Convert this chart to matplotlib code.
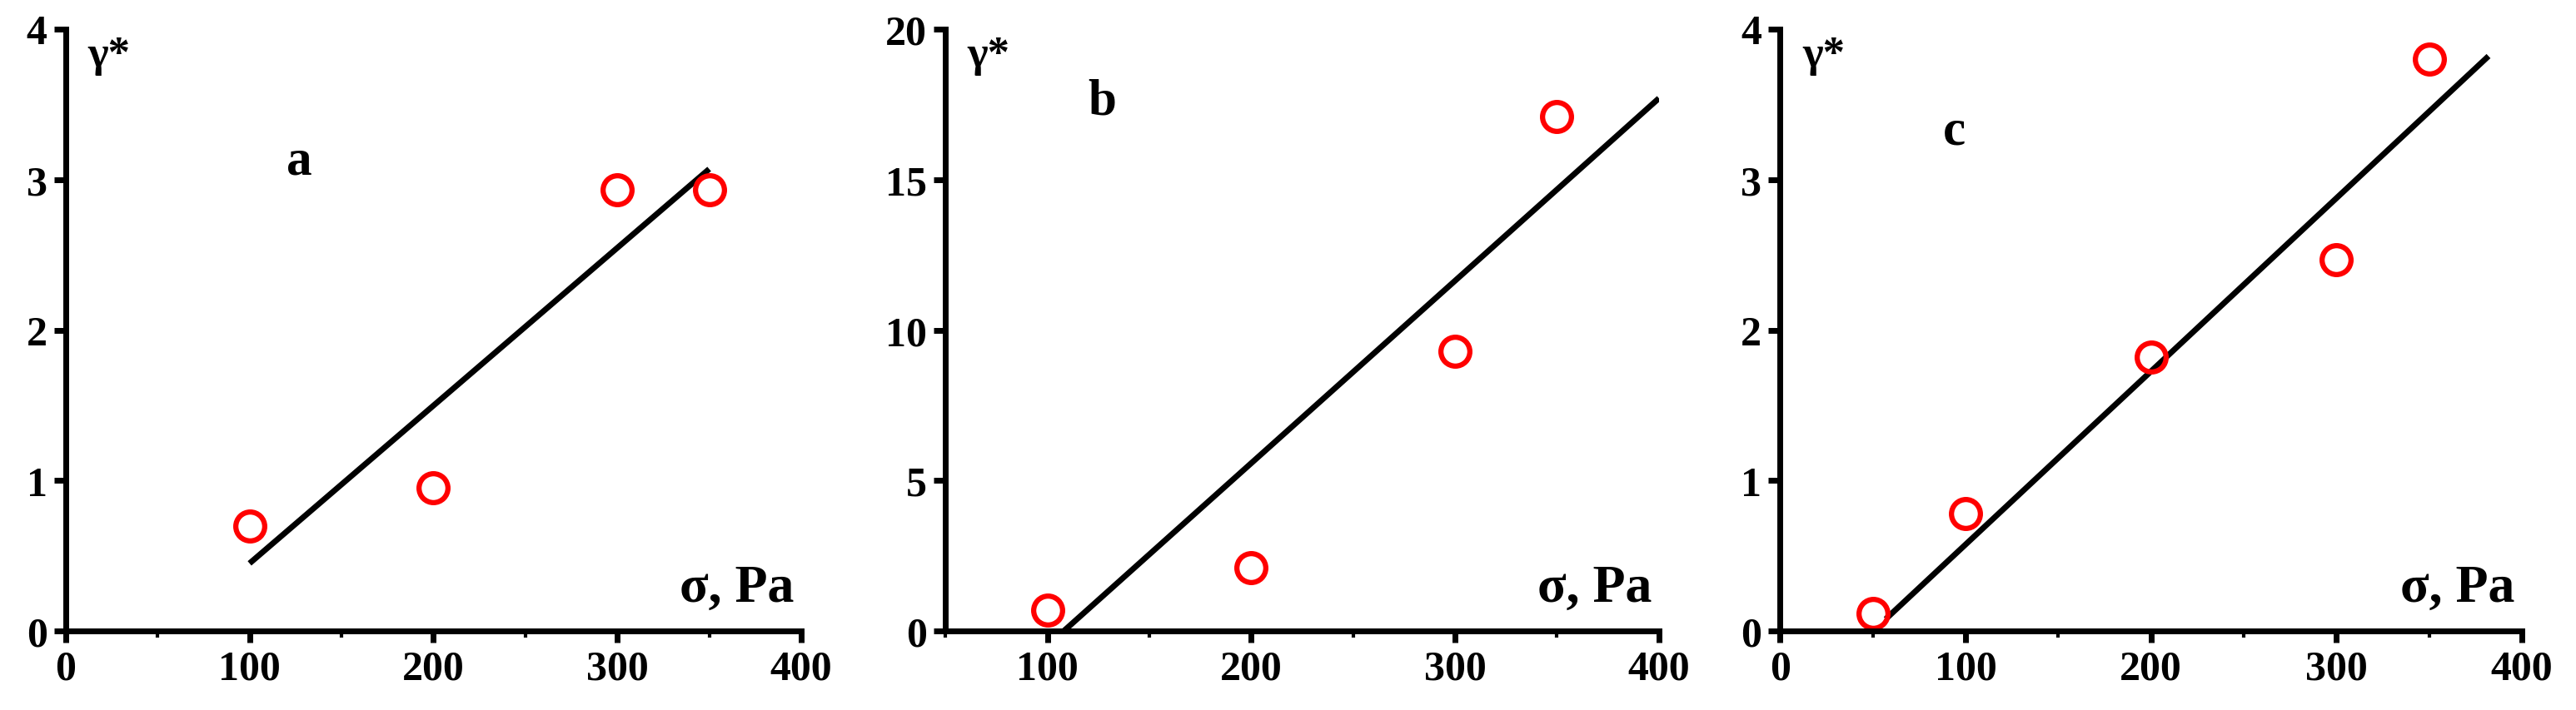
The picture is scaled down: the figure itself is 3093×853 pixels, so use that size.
import matplotlib
matplotlib.use("Agg")
import matplotlib.pyplot as plt
from matplotlib.ticker import MultipleLocator

plt.rcParams["font.family"] = ["Liberation Serif", "DejaVu Serif"]
plt.rcParams["font.weight"] = "bold"

# panel a
a_x = [100, 200, 300, 350]
a_y = [0.7, 0.95, 2.93, 2.93]
a_fit_x = [100, 350]
a_fit_y = [0.45, 3.07]

# panel b
b_x = [100, 200, 300, 350]
b_y = [0.7, 2.1, 9.3, 17.1]
b_fit_x = [108, 400]
b_fit_y = [0.0, 17.7]

# panel c
c_x = [50, 100, 200, 300, 350]
c_y = [0.12, 0.78, 1.82, 2.47, 3.8]
c_fit_x = [57, 382]
c_fit_y = [0.08, 3.82]

panels = [
    (a_x, a_y, a_fit_x, a_fit_y, "a", (0, 400), (0, 4), 1, [0.0255, 0.311], (0.30, 0.76)),
    (b_x, b_y, b_fit_x, b_fit_y, "b", (50, 400), (0, 20), 5, [0.367, 0.644], (0.20, 0.86)),
    (c_x, c_y, c_fit_x, c_fit_y, "c", (0, 400), (0, 4), 1, [0.691, 0.979], (0.22, 0.81)),
]

fig = plt.figure(figsize=(30.93, 8.54), dpi=100, facecolor="white")
for xs, ys, fx, fy, tag, xlim, ylim, ystep, (l, r), tpos in panels:
    ax = fig.add_axes([l, 0.111, r - l, 0.847])
    ax.plot(fx, fy, color="black", linewidth=5, solid_capstyle="butt")
    ax.plot(xs, ys, "o", markersize=25, markerfacecolor="none",
            markeredgecolor="#ff0000", markeredgewidth=4.5, clip_on=False)
    ax.set_xlim(*xlim)
    ax.set_ylim(*ylim)
    ax.xaxis.set_major_locator(MultipleLocator(100))
    ax.xaxis.set_minor_locator(MultipleLocator(50))
    ax.yaxis.set_major_locator(MultipleLocator(ystep))
    for s in ["top", "right"]:
        ax.spines[s].set_visible(False)
    for s in ["left", "bottom"]:
        ax.spines[s].set_linewidth(5)
    ax.tick_params(which="major", direction="out", length=10, width=5, labelsize=36, pad=6)
    ax.tick_params(which="minor", direction="out", length=6, width=3)
    for lab in ax.get_xticklabels() + ax.get_yticklabels():
        lab.set_fontweight("bold")
    ax.text(tpos[0], tpos[1], tag, transform=ax.transAxes, fontsize=44, fontweight="bold")
    ax.text(0.03, 0.99, "γ*", transform=ax.transAxes, fontsize=38, fontweight="bold", va="top")
    ax.text(0.99, 0.05, "σ, Pa", transform=ax.transAxes, fontsize=46, fontweight="bold", ha="right")

fig.savefig("out.png", dpi=100, facecolor="white")
